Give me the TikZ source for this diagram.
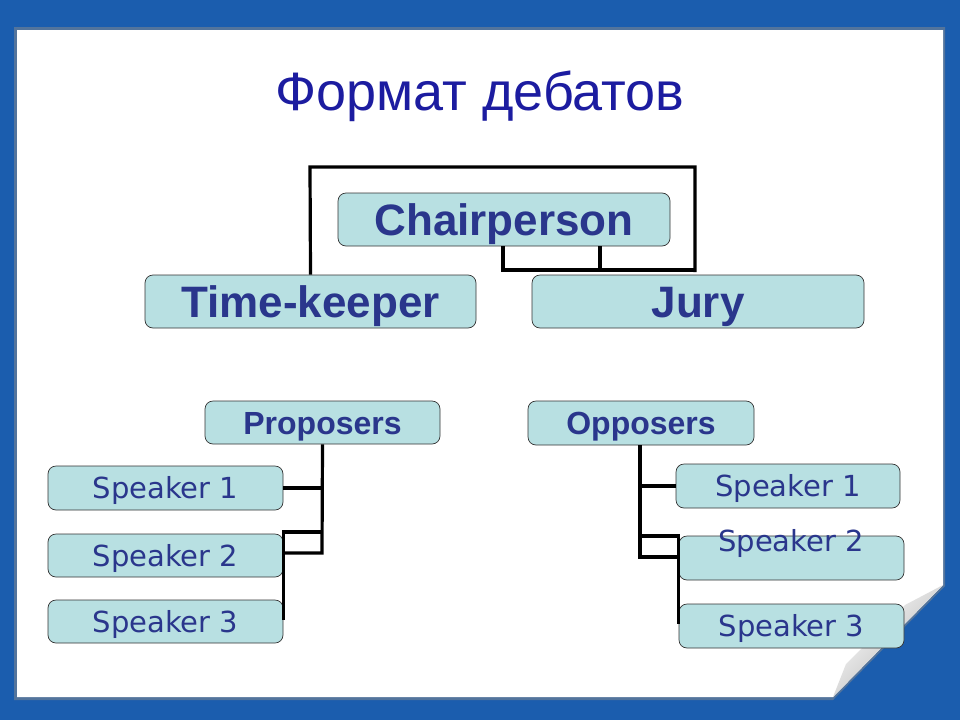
\documentclass[tikz,border=0pt]{standalone}
\usepackage{fontspec}
\setmainfont{Liberation Sans}
\newfontfamily\dejavu{DejaVu Sans}
\definecolor{bgblue}{RGB}{27,93,174}
\definecolor{boxfill}{RGB}{184,224,226}
\definecolor{boxtext}{RGB}{42,54,140}
\definecolor{titleblue}{RGB}{28,28,160}
\begin{document}
\begin{tikzpicture}[x=1pt,y=-1pt,
  box/.style={draw=black!80,line width=0.7pt,fill=boxfill,rounded corners=8pt,inner sep=0pt,text=boxtext},
  bigbox/.style={box,font=\fontsize{44}{44}\selectfont\bfseries,text height=31.5pt,text depth=0pt},
  midbox/.style={box,font=\fontsize{32}{32}\selectfont\bfseries,text height=23pt,text depth=0pt},
  spkbox/.style={box,font=\dejavu\fontsize{29}{29}\selectfont,text height=21pt,text depth=0pt},
  conn/.style={line width=3.2pt,black}]
\useasboundingbox (0,0) rectangle (960,720);
% background and page
\fill[bgblue] (0,0) rectangle (960,720);
\fill[black!45,opacity=0.5] (14,27) -- (945,27) -- (945,586) -- (833,700) -- (14,700) -- cycle;
\fill[white] (17,30) -- (943,30) -- (943,585) -- (833,697) -- (17,697) -- cycle;
% curled corner
\shade[left color=white,right color=black!30,shading angle=45]
  (943,585) -- (833,697) -- (846,664) -- (905,605) -- cycle;
% title
\node[text=titleblue,font=\fontsize{54}{54}\selectfont] (title) at (480,96) {Формат дебатов};
% top boxes
\node[bigbox,minimum width=332pt,minimum height=53pt] (chair) at (504,219.5) {Chairperson};
\node[bigbox,minimum width=331pt,minimum height=53pt] (tk) at (310.5,301.5) {Time-keeper};
\node[bigbox,minimum width=332pt,minimum height=53pt] (jury) at (698,301.5) {Jury};
% lower boxes
\node[midbox,minimum width=235pt,minimum height=43pt] (prop) at (322.5,422.5) {Proposers};
\node[midbox,minimum width=226pt,minimum height=44pt] (opp) at (641,423) {Opposers};
\node[spkbox,minimum width=235pt,minimum height=44pt] (ps1) at (165.5,488) {Speaker 1};
\node[spkbox,minimum width=235pt,minimum height=43pt] (ps2) at (165.5,555.5) {Speaker 2};
\node[spkbox,minimum width=235pt,minimum height=43pt] (ps3) at (165.5,621.5) {Speaker 3};
\node[spkbox,minimum width=224pt,minimum height=44pt] (os1) at (788,486) {Speaker 1};
\node[box,minimum width=225pt,minimum height=44pt] (os2) at (791.5,558) {};
\node[text=boxtext,font=\dejavu\fontsize{29}{29}\selectfont,text height=21pt,text depth=0pt,inner sep=0pt] (os2t) at (791,541) {Speaker 2};
\node[spkbox,minimum width=225pt,minimum height=44pt] (os3) at (791.5,626) {Speaker 3};
% connectors top
\draw[conn] (tk.north) -- (310,167) -- (695,167) -- (695,272);
\coordinate (c1) at (503,270);
\coordinate (c2) at (600,270);
\draw[conn] (chair.south -| c1) -- (c1) -- (695,270);
\draw[conn] (chair.south -| c2) -- (c2);
% connectors proposers
\coordinate (pv) at (322,553);
\draw[conn] (prop.south) -- (pv) -- (ps2.east |- pv);
\draw[conn] (ps1.east) -- (ps1.east -| pv);
\coordinate (pj) at (322,532);
\draw[conn] (pj) -- (ps2.east |- pj) -- (ps3.east |- 0,620);
% connectors opposers
\coordinate (ov) at (640,557);
\draw[conn] (opp.south -| ov) -- (ov) -- (os2.west |- ov);
\draw[conn] (os1.west -| ov) -- (os1.west);
\coordinate (oj) at (640,536);
\draw[conn] (oj) -- (os2.west |- oj) -- (os3.west |- 0,624);
\end{tikzpicture}
\end{document}
